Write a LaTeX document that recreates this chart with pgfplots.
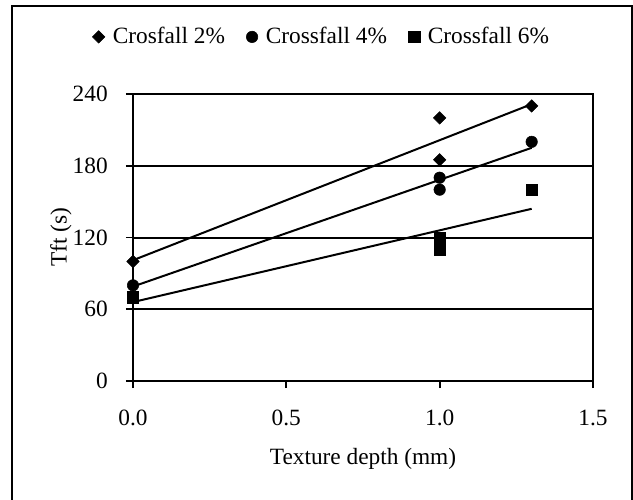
\documentclass[border=0pt]{standalone}
\usepackage{pgfplots}
\pgfplotsset{compat=1.18}
\usepackage{fontspec}
\setmainfont{Liberation Serif}
\begin{document}
\fontsize{17.5}{20}\selectfont
\begin{tikzpicture}
\useasboundingbox (0pt,0pt) rectangle (474.75pt,-375pt);
\begin{scope}[x=0.75pt,y=-0.75pt]
\draw[line width=1.5pt] (12,6) rectangle (631.5,530);
\coordinate (O) at (133,381);
\end{scope}
\begin{axis}[
  at={(O)}, anchor=south west,
  scale only axis, width=345pt, height=215.25pt,
  xmin=0, xmax=1.5, ymin=0, ymax=240,
  xtick={0,0.5,1,1.5}, xticklabels={0.0,0.5,1.0,1.5},
  ytick={0,60,120,180,240}, yticklabels={0,60,120,180,240},
  xtick pos=bottom, ytick pos=left,
  tick align=outside, major tick length=5.25pt,
  every tick/.style={black, line width=1.3pt},
  axis line style={black, line width=1.6pt},
  ymajorgrids, major grid style={black, line width=1.5pt},
  xticklabel style={font=\fontsize{17.5}{20}\selectfont, inner sep=0pt, anchor=north, yshift=-16.5pt},
  yticklabel style={font=\fontsize{17.5}{20}\selectfont, inner sep=0pt, anchor=east, xshift=-13.5pt},
  every axis x label/.style={at={(axis description cs:0.5,-0.272)}, anchor=center, inner sep=0pt, font=\fontsize{17.5}{20}\selectfont},
  every axis y label/.style={at={(axis description cs:-0.157,0.5)}, rotate=90, anchor=center, inner sep=0pt, font=\fontsize{17.5}{20}\selectfont},
  xlabel={Texture depth (mm)}, ylabel={Tft (s)},
  legend style={at={(axis description cs:0.411,1.199)}, anchor=center, draw=none, fill=none, legend columns=-1,
    font=\fontsize{17.5}{20}\selectfont,
    /tikz/every odd column/.append style={column sep=4pt},
    /tikz/every even column/.append style={column sep=14pt}},
  legend cell align=left,
  clip=false,
]
\addplot[only marks, mark=square*, mark size=3.3pt, mark options={rotate=45, black, fill=black}] coordinates {(0,100) (1,220) (1,185) (1.3,230)};
\addlegendentry{Crosfall 2\%}
\addplot[only marks, mark=*, mark size=4.3pt, mark options={black, fill=black}] coordinates {(0,80) (1,170) (1,160) (1.3,200)};
\addlegendentry{Crossfall 4\%}
\addplot[only marks, mark=square*, mark size=4.3pt, mark options={black, fill=black}] coordinates {(0,70) (1,120) (1,115) (1,110) (1.3,160)};
\addlegendentry{Crossfall 6\%}
\addplot[no marks, black, line width=1.5pt, forget plot] coordinates {(0,101) (1.3,231.5)};
\addplot[no marks, black, line width=1.5pt, forget plot] coordinates {(0,79) (1.3,195)};
\addplot[no marks, black, line width=1.5pt, forget plot] coordinates {(0,66) (1.3,144)};
\end{axis}
\end{tikzpicture}
\end{document}
